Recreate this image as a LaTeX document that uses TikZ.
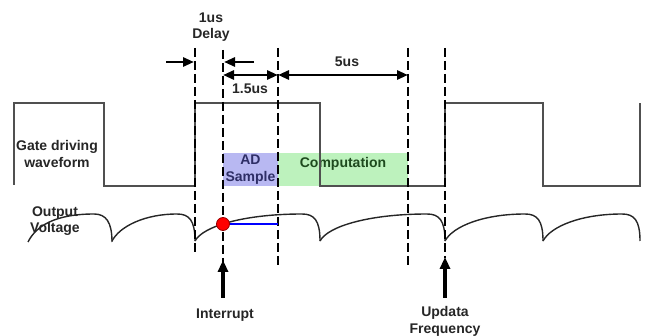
\documentclass[tikz,border=0pt]{standalone}
\usepackage{fontspec}
\setmainfont{Liberation Sans}
\usepackage{xcolor}
\usepackage{tikz}
\usetikzlibrary{arrows.meta}

\definecolor{gatecol}{HTML}{505050}
\definecolor{adfill}{HTML}{B8B8F2}
\definecolor{compfill}{HTML}{BDF2BD}
\definecolor{adtext}{HTML}{2E2E66}
\definecolor{comptext}{HTML}{1E4A1E}

\begin{document}
\begin{tikzpicture}[
x=1pt, y=-1pt,
lbl/.style={
  font=\fontsize{14}{16.5}\selectfont\bfseries,
  text=black!85,
  align=center,
  inner sep=0pt
},
adbox/.style={
  rectangle,
  fill=adfill,
  minimum width=55pt,
  minimum height=33pt,
  inner sep=0pt
},
compbox/.style={
  rectangle,
  fill=compfill,
  minimum width=130pt,
  minimum height=33pt,
  inner sep=0pt
},
gate/.style={line width=1.9pt, gatecol},
vout/.style={line width=1.4pt, black!85},
marker/.style={line width=2.1pt, black, dash pattern=on 9pt off 4pt},
dim/.style={line width=2.8pt, -{Triangle[length=11pt,width=9pt]}},
dimboth/.style={line width=2.8pt, {Triangle[length=11pt,width=9pt]}-{Triangle[length=11pt,width=9pt]}},
ptr/.style={line width=3.2pt, -{Triangle[length=12pt,width=10pt]}}
]
\useasboundingbox (0,0) rectangle (648,336);

% ---- sample and computation windows ----
\node[adbox, lbl, text=adtext] (adsample) at (250.5,169.5) {AD\\Sample};
\node[compbox] (comp) at (343,169.5) {};
\node[lbl, text=comptext, anchor=north] (complbl) at ([yshift=-4pt]comp.north) {Computation};

% ---- gate driving waveform ----
\draw[gate] (14,185) -- (14,103) -- (104,103) -- (104,186) -- (195,186) -- (195,103)
  -- (320,103) -- (320,186) -- (445,186) -- (445,103) -- (543,103) -- (543,186)
  -- (640,186) -- (640,103);

% ---- output voltage ----
\draw[vout] (28,242) .. controls (36,226) and (55,214) .. (94,214)
  .. controls (106,214) and (112,222) .. (112,242);
\foreach \a/\b in {112/195,195/320,320/445,445/543,543/640}
  \draw[vout] (\a,241) .. controls (\a+8,226) and ({\a+0.4*(\b-\a)},214) .. (\b-18,214)
    .. controls (\b-6,214) and (\b,220) .. (\b,241);

% ---- time markers ----
\coordinate (m1t) at (195,48);
\coordinate (m1b) at (195,255);
\coordinate (m2t) at (223,50);
\coordinate (m2b) at (223,262);
\coordinate (m3t) at (278,48);
\coordinate (m3b) at (278,268);
\coordinate (m4t) at (408,48);
\coordinate (m4b) at (408,268);
\coordinate (m5t) at (445,48);
\coordinate (m5b) at (445,258);

\draw[marker] (m1t) -- (m1b);
\draw[marker] (m2t) -- (m2b);
\draw[marker] (m3t) -- (m3b);
\draw[marker] (m4t) -- (m4b);
\draw[marker] (m5t) -- (m5b);

% ---- held sample ----
\node[circle, fill=red, draw=red!60!black, line width=0.8pt, minimum size=13pt, inner sep=0pt] (sample) at (223,224) {};
\coordinate (hold) at (278,224);
\draw[blue, line width=2.5pt] (sample.east) -- (hold);

% ---- dimensions ----
\coordinate (d1a) at (166,62);
\coordinate (d1b) at (194,62);
\coordinate (d2a) at (254,62);
\coordinate (d2b) at (224,62);
\coordinate (d3a) at (223,75);
\coordinate (d3b) at (278,75);
\coordinate (d4a) at (278,75);
\coordinate (d4b) at (408,75);

\draw[dim] (d1a) -- (d1b);
\draw[dim] (d2a) -- (d2b);
\draw[dimboth] (d3a) -- (d3b);
\draw[dimboth] (d4a) -- (d4b);

\node[lbl] (delay) at (211,27) {1us\\Delay};
\node[lbl] (t15) at (250,89) {1.5us};
\node[lbl] (t5) at (347,62) {5us};

% ---- labels ----
\node[lbl] (gatelbl) at (57,154) {Gate driving\\waveform};
\node[lbl] (voutlbl) at (55,221) {Output\\Voltage};

% ---- events ----
\coordinate (intTail) at (223,298);
\coordinate (intTip) at (223,260);
\coordinate (updTail) at (445,298);
\coordinate (updTip) at (445,257);

\draw[ptr] (intTail) -- (intTip);
\draw[ptr] (updTail) -- (updTip);

\node[lbl] (intlbl) at (225,315) {Interrupt};
\node[lbl] (updlbl) at (445,321.5) {Updata\\Frequency};

\end{tikzpicture}
\end{document}
